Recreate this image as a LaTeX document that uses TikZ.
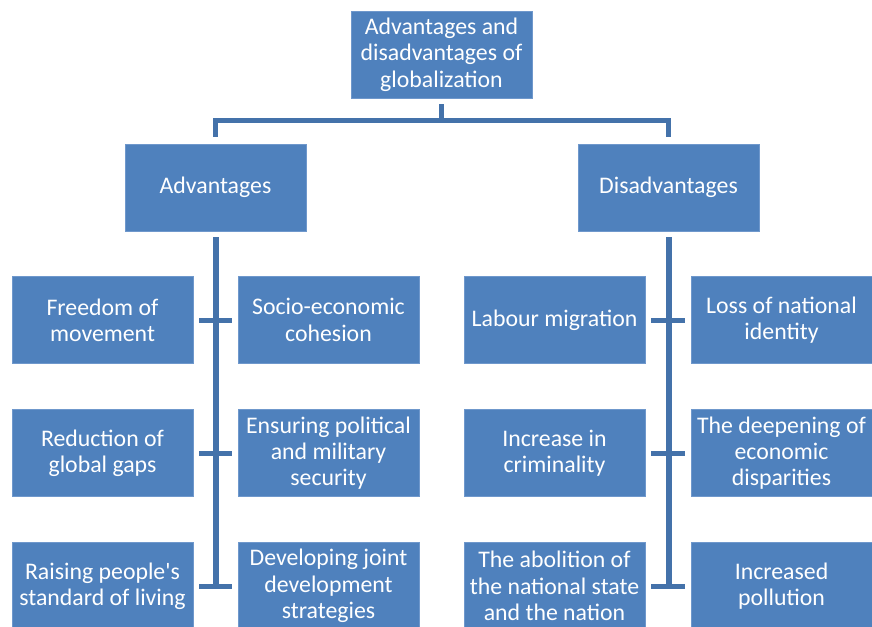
\documentclass[tikz,border=0pt]{standalone}
\usepackage{fontspec}
\setmainfont{Carlito}[Ligatures=TeXOff]
\definecolor{boxfill}{HTML}{4F81BD}
\definecolor{boxedge}{HTML}{6F98CC}
\definecolor{connblue}{HTML}{4472AA}
\begin{document}
\begin{tikzpicture}[x=1pt,y=-1pt,
  box/.style={rectangle, fill=boxfill, draw=boxedge, line width=0.8pt,
    minimum width=181pt, minimum height=87pt, inner sep=0pt,
    align=center, text=white, font=\fontsize{23.8}{26.3}\selectfont},
  conn/.style={draw=connblue, line width=5pt},
  trunk/.style={draw=connblue, line width=6pt}]
\useasboundingbox (0,0) rectangle (872,626);
\begin{scope}
\clip (0,0) rectangle (872,626);
\node[box] (top) at (441.5,54.5) {Advantages and\\disadvantages of\\globalization};
\node[box] (adv) at (215.5,187.5) {Advantages};
\node[box] (dis) at (668.5,187.5) {Disadvantages};
% advantages
\node[box] (a1) at (102.5,320) {Freedom of\\movement};
\node[box] (a2) at (328.5,320) {Socio-economic\\cohesion};
\node[box] (a3) at (102.5,453) {Reduction of\\global gaps};
\node[box] (a4) at (328.5,453) {Ensuring political\\and military\\security};
\node[box] (a5) at (102.5,586) {Raising people's\\standard of living};
\node[box] (a6) at (328.5,586) {Developing joint\\development\\strategies};
% disadvantages
\node[box] (d1) at (554.5,320) {Labour migration};
\node[box] (d2) at (781.5,320) {Loss of national\\identity};
\node[box] (d3) at (554.5,453) {Increase in\\criminality};
\node[box] (d4) at (781.5,453) {The deepening of\\economic\\disparities};
\node[box] (d5) at (554.5,586) {The abolition of\\the national state\\and the nation};
\node[box] (d6) at (781.5,586) {Increased\\pollution};
% top connectors
\coordinate (tj) at ([yshift=-22pt]top.south);
\draw[conn] ([yshift=-6pt]top.south) -- (tj);
\draw[conn, line join=miter] (tj) -| ([yshift=7pt]adv.north);
\draw[conn, line join=miter] (tj) -| ([yshift=7pt]dis.north);
% trunks
\draw[trunk] ([yshift=-6pt]adv.south) -- ([yshift=-2.5pt]adv.south |- a5.east);
\draw[trunk] ([yshift=-6pt]dis.south) -- ([yshift=-2.5pt]dis.south |- d5.east);
% ticks
\draw[conn] ([xshift=6pt]a1.east) -- ([xshift=-6pt]a2.west);
\draw[conn] ([xshift=6pt]a3.east) -- ([xshift=-6pt]a4.west);
\draw[conn] ([xshift=6pt]a5.east) -- ([xshift=-6pt]a6.west);
\draw[conn] ([xshift=6pt]d1.east) -- ([xshift=-6pt]d2.west);
\draw[conn] ([xshift=6pt]d3.east) -- ([xshift=-6pt]d4.west);
\draw[conn] ([xshift=6pt]d5.east) -- ([xshift=-6pt]d6.west);
\end{scope}
\end{tikzpicture}
\end{document}
